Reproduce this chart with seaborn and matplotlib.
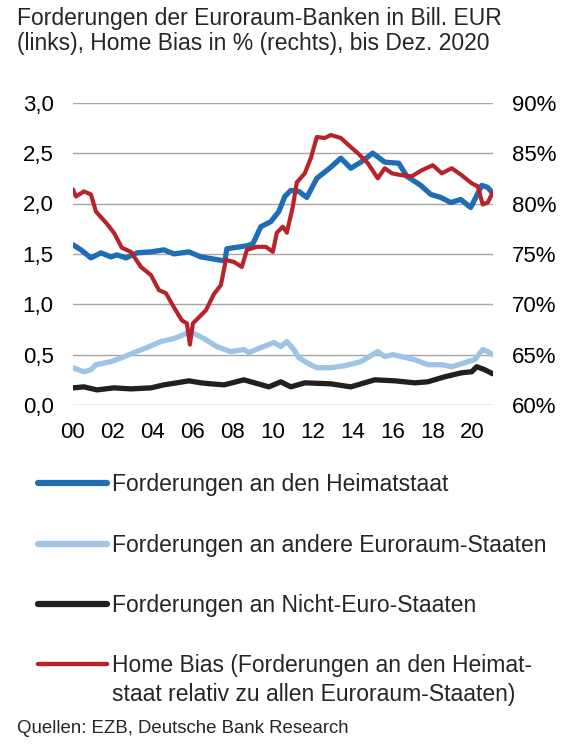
import numpy as np
import seaborn as sns
import matplotlib.pyplot as plt
from matplotlib.lines import Line2D
from matplotlib.ticker import FuncFormatter

# Forderungen an den Heimatstaat (Bill. EUR, links)
home_years = [2000.0, 2000.4, 2000.9, 2001.4, 2001.9, 2002.2, 2002.65, 2003.2, 2003.9, 2004.55,
              2005.05, 2005.8, 2006.4, 2007.0, 2007.6, 2007.7, 2008.0, 2008.7, 2009.0, 2009.4,
              2009.9, 2010.3, 2010.6, 2010.9, 2011.3, 2011.7, 2012.2, 2012.9, 2013.4, 2013.9,
              2014.4, 2015.0, 2015.6, 2016.3, 2016.7, 2017.4, 2017.9, 2018.4, 2018.9, 2019.4,
              2019.9, 2020.2, 2020.45, 2020.75, 2021.0]
home_vals = [1.59, 1.54, 1.46, 1.51, 1.47, 1.49, 1.46, 1.51, 1.52, 1.54,
             1.50, 1.52, 1.47, 1.45, 1.43, 1.55, 1.56, 1.58, 1.60, 1.77,
             1.82, 1.92, 2.07, 2.13, 2.12, 2.06, 2.25, 2.36, 2.45, 2.35,
             2.41, 2.50, 2.41, 2.40, 2.27, 2.18, 2.09, 2.06, 2.01, 2.04,
             1.96, 2.08, 2.18, 2.16, 2.10]

# Forderungen an andere Euroraum-Staaten (links)
other_years = [2000.0, 2000.55, 2000.9, 2001.15, 2001.9, 2002.45, 2003.05, 2003.7, 2004.4, 2005.05,
               2005.8, 2006.15, 2006.55, 2007.2, 2007.9, 2008.55, 2008.8, 2009.4, 2010.05, 2010.4,
               2010.7, 2011.05, 2011.3, 2011.7, 2012.2, 2012.9, 2013.6, 2014.4, 2015.25, 2015.6,
               2016.0, 2016.45, 2017.1, 2017.75, 2018.45, 2018.95, 2019.6, 2020.1, 2020.5, 2020.75,
               2021.0]
other_vals = [0.37, 0.33, 0.35, 0.40, 0.43, 0.47, 0.52, 0.57, 0.63, 0.66,
              0.72, 0.70, 0.66, 0.58, 0.53, 0.55, 0.52, 0.57, 0.62, 0.58,
              0.63, 0.55, 0.47, 0.42, 0.37, 0.37, 0.39, 0.43, 0.53, 0.48,
              0.50, 0.48, 0.45, 0.40, 0.40, 0.38, 0.42, 0.45, 0.55, 0.53,
              0.50]

# Forderungen an Nicht-Euro-Staaten (links)
non_years = [2000.0, 2000.55, 2001.2, 2002.05, 2002.9, 2003.9, 2004.55, 2005.2, 2005.8, 2006.4,
             2006.9, 2007.57, 2008.55, 2009.8, 2010.4, 2010.9, 2011.6, 2012.9, 2013.9, 2015.1,
             2016.1, 2017.1, 2017.75, 2018.6, 2019.45, 2019.95, 2020.2, 2020.6, 2021.0]
non_vals = [0.17, 0.18, 0.15, 0.17, 0.16, 0.17, 0.20, 0.22, 0.24, 0.22,
            0.21, 0.20, 0.25, 0.18, 0.23, 0.18, 0.22, 0.21, 0.18, 0.25,
            0.24, 0.22, 0.23, 0.28, 0.32, 0.33, 0.38, 0.35, 0.31]

# Home Bias in % (rechts)
bias_years = [2000.0, 2000.15, 2000.55, 2000.9, 2001.15, 2001.65, 2002.05, 2002.45, 2002.9, 2003.4,
              2003.9, 2004.3, 2004.65, 2005.05, 2005.45, 2005.7, 2005.85, 2006.0, 2006.3, 2006.65,
              2007.05, 2007.4, 2007.65, 2008.05, 2008.45, 2008.7, 2009.2, 2009.65, 2010.0, 2010.2,
              2010.5, 2010.7, 2011.0, 2011.2, 2011.6, 2011.9, 2012.2, 2012.6, 2012.9, 2013.4,
              2013.9, 2014.25, 2014.75, 2015.25, 2015.6, 2015.95, 2016.45, 2016.95, 2017.45, 2018.0,
              2018.45, 2018.95, 2019.45, 2019.95, 2020.25, 2020.5, 2020.75, 2021.0]
bias_vals = [81.4, 80.7, 81.2, 80.9, 79.2, 78.1, 77.1, 75.6, 75.2, 73.7,
             72.9, 71.4, 71.1, 69.7, 68.4, 68.1, 66.0, 68.1, 68.7, 69.4,
             71.0, 71.9, 74.4, 74.2, 73.7, 75.4, 75.7, 75.7, 75.2, 77.1,
             77.7, 77.1, 79.7, 82.1, 83.0, 84.5, 86.6, 86.5, 86.8, 86.5,
             85.6, 85.0, 84.0, 82.5, 83.5, 83.0, 82.8, 82.7, 83.3, 83.8,
             83.0, 83.5, 82.8, 82.0, 81.7, 79.9, 80.1, 81.1]

labels = ["Forderungen an den Heimatstaat",
          "Forderungen an andere Euroraum-Staaten",
          "Forderungen an Nicht-Euro-Staaten",
          "Home Bias (Forderungen an den Heimat-"]
label_rest = "staat relativ zu allen Euroraum-Staaten)"
x_ticks = list(range(2000, 2021, 2))
x_labels = [f"{y % 100:02d}" for y in x_ticks]

c_home = "#1f6db5"
c_other = "#9dc3e6"
c_non = "#231f20"
c_bias = "#b8232a"

sns.set_style("white")
plt.rcParams["font.family"] = ["Liberation Sans", "DejaVu Sans"]

fig = plt.figure(figsize=(5.79, 7.5), dpi=100)
ax = fig.add_axes([0.126, 0.46, 0.725, 0.403])
ax2 = ax.twinx()

sns.lineplot(x=home_years, y=home_vals, ax=ax, color=c_home, linewidth=3.8)
sns.lineplot(x=other_years, y=other_vals, ax=ax, color=c_other, linewidth=3.8)
sns.lineplot(x=non_years, y=non_vals, ax=ax, color=c_non, linewidth=3.8)
sns.lineplot(x=bias_years, y=bias_vals, ax=ax2, color=c_bias, linewidth=3.0)

ax.set_xlim(2000, 2021)
ax.set_ylim(0, 3.0)
ax2.set_ylim(60, 90)
ax.set_yticks(np.arange(0, 3.01, 0.5))
ax2.set_yticks(range(60, 91, 5))
ax.set_xticks(x_ticks)
ax.set_xticklabels(x_labels)
ax.yaxis.set_major_formatter(FuncFormatter(lambda v, p: f"{v:.1f}".replace(".", ",")))
ax2.yaxis.set_major_formatter(FuncFormatter(lambda v, p: f"{v:.0f}%"))

ax.yaxis.grid(True, color="#a6a6a6", linewidth=1.0)
ax.xaxis.grid(False)
ax2.grid(False)
for a in (ax, ax2):
    for s in a.spines.values():
        s.set_visible(False)
    a.tick_params(length=0, labelsize=16, colors="black")
ax.tick_params(axis="y", pad=14)
ax.tick_params(axis="x", pad=12)
ax2.tick_params(axis="y", pad=14)
ax.set_xlabel("")
ax.set_ylabel("")
ax2.set_ylabel("")

fig.text(0.03, 0.99, "Forderungen der Euroraum-Banken in Bill. EUR\n(links), Home Bias in % (rechts), bis Dez. 2020",
         fontsize=16.5, va="top", ha="left", linespacing=1.1)

handles = [Line2D([], [], color=c_home, linewidth=4.5, solid_capstyle="round"),
           Line2D([], [], color=c_other, linewidth=4.5, solid_capstyle="round"),
           Line2D([], [], color=c_non, linewidth=4.5, solid_capstyle="round"),
           Line2D([], [], color=c_bias, linewidth=3.2, solid_capstyle="round")]
leg = fig.legend(handles, labels, loc="upper left", bbox_to_anchor=(0.066, 0.369),
                 frameon=False, fontsize=16.5, handlelength=3.0, handletextpad=0.2,
                 labelspacing=1.63, borderaxespad=0, borderpad=0)

fig.canvas.draw()
t_last = leg.get_texts()[3]
bb = t_last.get_window_extent().transformed(fig.transFigure.inverted())
fig.text(bb.x0, bb.y0 - 0.007, label_rest, fontsize=16.5, va="top", ha="left")

fig.text(0.03, 0.029, "Quellen: EZB, Deutsche Bank Research", fontsize=13.4, va="center", ha="left")

fig.savefig("out.png", dpi=100)
